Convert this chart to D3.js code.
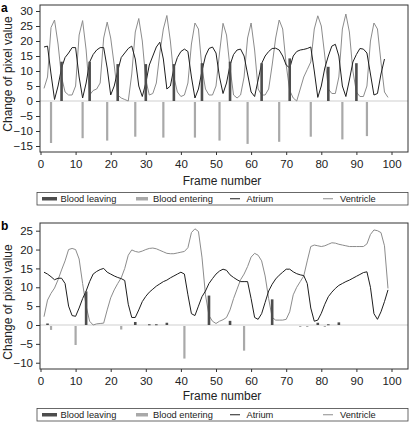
<!DOCTYPE html>
<html><head><meta charset="utf-8">
<script src="https://cdn.jsdelivr.net/npm/d3@7"></script>
<style>body{margin:0;background:#fff}svg{display:block;font-family:"Liberation Sans",Arial,sans-serif}</style>
</head><body>
<svg id="c" width="411" height="423"></svg>
<script>
// ---------- Panel a data ----------
const ventricleA = [4.2,8,24.5,27,19,8,3,2,2,5,22,26.8,17,2,3.5,4,6,21,26.3,21,12,2,1,0.5,0,9,23,27.5,20,7,2,2.5,6,16,24,28.5,20,8,3,1.5,2,6,19,26,24,11,4,2,2,5,16,25.9,22,11,2,1,2,8,21,26,17,4,2,2,4,12,21,27,24,12,3.5,1,0,4,8,10.5,13,24,28.4,25,15,4,2.5,2.5,8,24,29,23,10,3,1.5,1.5,5,20,26,24,13,3,1.2];
const atriumA = [18,18.3,9,0.5,5,11,14.5,16,17.8,17.8,8,1,6,13,15.5,17,17.8,17.8,11,2,5,10,14.5,16,17.5,18.3,14,5,1.5,6,12,15,18,19.6,14,4,5,11,14.5,16.5,17.3,16.5,8,1,4,10,15,17.5,18,16,8,2.5,6,12,15.5,17,17.3,15,9,3,1.5,7,12.5,15,16.5,17.5,17.6,17,15,12,11,15,16.5,17,17.2,17.5,18,10,1.2,5,11,15,18.3,18.9,15,5,1.5,7,13,15.5,17.5,17.3,16,9,2,2.5,9,14];
const leavingFramesA = [6,14,22,30,38,46,54,63,71,82,90];
const leavingValuesA = [13.1,13.1,12.3,12.3,12.3,12.6,13.1,12.6,14.2,11.4,12.6];
const enteringFramesA = [3,12,19,27,35,44,51,59,68,77,86,93];
const enteringValuesA = [-14,-12.4,-13.2,-11.9,-12.2,-12.2,-13.2,-14.3,-13.6,-11.9,-12.8,-11.7];
const yTicksA = [-15,-10,-5,0,5,10,15,20,25,30];

// ---------- Panel b data ----------
const ventricleB = [2.2,6.6,8.4,9.8,12,14.6,17,20,20.3,20,17.5,11,5,1,0,0.3,0.4,0.5,4,7.2,9.3,11,12.5,15,18.5,19.9,19.5,19.3,19.6,20,20.3,20.4,20.2,19.8,19.4,19,18.9,18.9,19.1,19.3,19.5,20.5,24.5,25.5,24.8,18,8,2.5,1,0.4,1,1.4,2,4,7,9.5,12,13.5,15.5,18,19,18.5,17,13,7,2,1.3,1.3,1.3,1.5,3.5,8,10,11.5,13,17,20.8,21.2,21,20.8,21,21.4,21.8,21.7,21.4,21.2,21,20.8,20.8,20.8,20.8,20.8,21.5,24,25.2,25,24.5,21,9.7];
const atriumB = [14,13.5,12.8,12,12.4,12.4,11,5,2.5,2.3,4.5,7,9,11.5,13.5,14.2,14.7,15,14,13.5,13,12.6,12.3,11.8,5.5,2,2,4,6.2,7.6,8.7,9.5,10.3,10.9,11.5,11.9,12.5,13,13.5,14,13.5,8,3,2.5,5,7.5,9,11,12.3,13.5,14.3,14.8,14.5,13.3,12.6,12,11.5,11.5,11.5,7,2,1.5,3,6,9,10.8,12.2,13.2,14,14.8,14.8,14.1,13.6,13.3,13.1,11,4.5,1,1.3,3.1,5.5,7.5,8.7,9.7,10.5,11,11.5,11.9,12.4,12.9,13.4,13.9,14.1,10,3,1.5,3.5,6.2,9.3];
const leavingFramesB = [2,13,27,31,33,36,48,54,66,79,82,85];
const leavingValuesB = [0.4,8.9,0.8,0.2,0.2,0.6,7.8,1.1,6.8,0.6,0.2,0.7];
const enteringFramesB = [3,10,23,41,58,74,76,81];
const enteringValuesB = [-1.3,-5.3,-1.2,-8.9,-6.8,-0.3,-0.4,-0.2];
const yTicksB = [-10,-5,0,5,10,15,20,25];

const xTicks = [0,10,20,30,40,50,60,70,80,90,100];
const legendLabels = ["Blood leaving","Blood entering","Atrium","Ventricle"];

const C = {atrium:"#1e1e1e", ventricle:"#8c8c8c", leaving:"#4d4d4d", entering:"#a9a9a9", zero:"#cfcfcf", box:"#333"};

const svg = d3.select("#c");

function panel(o){
  const g = svg.append("g");
  const x = d3.scaleLinear().domain([0,100]).range([40.5,391.5]);
  const y = d3.scaleLinear().domain([0,o.yRef]).range([o.y0,o.yRefPx]);
  const L=40, R=408;
  // zero line
  g.append("line").attr("x1",L).attr("x2",R).attr("y1",y(0)).attr("y2",y(0)).attr("stroke",C.zero).attr("stroke-width",1);
  const line = d3.line().x((d,i)=>x(i+1)).y(d=>y(d));
  g.append("path").datum(o.ventricle).attr("d",line).attr("fill","none").attr("stroke",C.ventricle).attr("stroke-width",1);
  g.append("path").datum(o.atrium).attr("d",line).attr("fill","none").attr("stroke",C.atrium).attr("stroke-width",1);
  // bars
  g.selectAll(null).data(o.lf).enter().append("rect")
    .attr("x",d=>x(d)-1.3).attr("width",2.6)
    .attr("y",(d,i)=>y(o.lv[i])).attr("height",(d,i)=>Math.max(1,y(0)-y(o.lv[i])))
    .attr("fill",C.leaving);
  g.selectAll(null).data(o.ef).enter().append("rect")
    .attr("x",d=>x(d)-1.1).attr("width",2.2)
    .attr("y",y(0)+1).attr("height",(d,i)=>Math.max(1,y(o.ev[i])-y(0)-1))
    .attr("fill",C.entering);
  // box
  g.append("rect").attr("x",L).attr("y",o.top).attr("width",R-L).attr("height",o.bottom-o.top)
    .attr("fill","none").attr("stroke",C.box).attr("stroke-width",1);
  // axes
  const ya = g.append("g").attr("transform",`translate(${L},0)`)
    .call(d3.axisLeft(y).tickValues(o.yTicks).tickSize(4).tickPadding(3).tickSizeOuter(0));
  ya.select(".domain").remove();
  const xa = g.append("g").attr("transform",`translate(0,${o.bottom})`)
    .call(d3.axisBottom(x).tickValues(xTicks).tickSize(3).tickPadding(5).tickSizeOuter(0));
  xa.select(".domain").remove();
  g.selectAll(".tick text").attr("font-size","11.5px").attr("fill","#222").attr("font-family","'Liberation Sans',Arial,sans-serif");
  g.selectAll(".tick line").attr("stroke","#333");
  // labels
  g.append("text").attr("x",222).attr("y",o.xlabY).attr("text-anchor","middle").attr("font-size","12px").attr("fill","#222").text("Frame number");
  g.append("text").attr("transform",`translate(11.5,${o.ylabC}) rotate(-90)`).attr("text-anchor","middle").attr("font-size","12px").attr("fill","#222").text("Change of pixel value");
  g.append("text").attr("x",1).attr("y",o.top+7).attr("font-size","12px").attr("font-weight","bold").attr("fill","#000").text(o.label);
  // legend
  const ly = o.legY, lh = 12.5;
  g.append("rect").attr("x",37).attr("y",ly).attr("width",371).attr("height",lh).attr("fill","none").attr("stroke","#444").attr("stroke-width",0.8);
  const cy = ly+lh/2;
  const sw = [
    {x1:42,x2:57,c:C.leaving,w:3.5},
    {x1:136,x2:148,c:C.entering,w:3.5},
    {x1:230,x2:240,c:C.atrium,w:1},
    {x1:323,x2:333,c:C.ventricle,w:1}];
  const tx = [60.5,153,246.5,340];
  sw.forEach((s,i)=>{
    g.append("line").attr("x1",s.x1).attr("x2",s.x2).attr("y1",cy).attr("y2",cy).attr("stroke",s.c).attr("stroke-width",s.w);
    g.append("text").attr("x",tx[i]).attr("y",cy+3.3).attr("font-size","9.3px").attr("fill","#222").text(legendLabels[i]);
  });
}

panel({label:"a", ventricle:ventricleA, atrium:atriumA, lf:leavingFramesA, lv:leavingValuesA, ef:enteringFramesA, ev:enteringValuesA,
  yTicks:yTicksA, yRef:30, y0:101, yRefPx:11, top:5, bottom:152, xlabY:185, ylabC:74, legY:192.5});
panel({label:"b", ventricle:ventricleB, atrium:atriumB, lf:leavingFramesB, lv:leavingValuesB, ef:enteringFramesB, ev:enteringValuesB,
  yTicks:yTicksB, yRef:25, y0:325, yRefPx:230.7, top:223, bottom:369, xlabY:399.5, ylabC:302, legY:408.5});
</script>
</body></html>
